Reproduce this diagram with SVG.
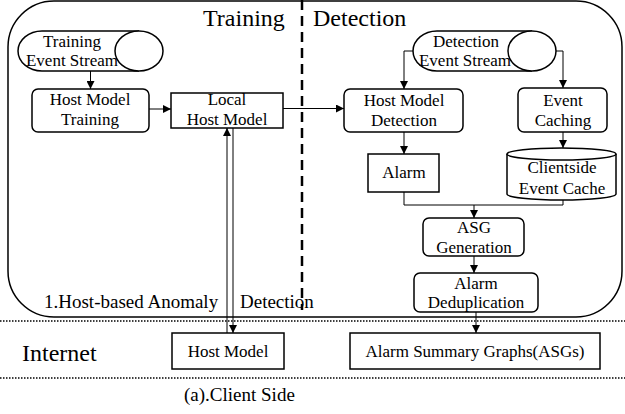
<svg xmlns="http://www.w3.org/2000/svg" width="625" height="414" viewBox="0 0 625 414">
  <style>
    .box { fill: #fff; stroke: #000; stroke-width: 1.5; }
    .frame { fill: none; stroke: #000; stroke-width: 1.5; }
    .lbl { font-family: "Liberation Serif", "Times New Roman", serif; font-size: 17px; fill: #000; text-anchor: middle; }
    .title { font-family: "Liberation Serif", "Times New Roman", serif; font-size: 24px; fill: #000; }
    .note { font-family: "Liberation Serif", "Times New Roman", serif; font-size: 19px; fill: #000; }
    .wire { fill: none; stroke: #000; stroke-width: 1; }
    .dots { stroke: #000; stroke-width: 1.5; stroke-dasharray: 1.5 1.5; }
  </style>
  <defs>
    <marker id="arrow" markerUnits="userSpaceOnUse" markerWidth="8" markerHeight="8" refX="8" refY="4" orient="auto">
      <path d="M0,0 L8,4 L0,8 z" fill="#000"/>
    </marker>
  </defs>
  <rect width="625" height="414" fill="#fff"/>

  <!-- client container with training / detection split -->
  <g id="client-frame">
    <rect class="frame" x="8" y="1" width="614" height="316" rx="46" ry="46"/>
    <line x1="302" y1="0" x2="302" y2="310" stroke="#000" stroke-width="2.5" stroke-dasharray="10 6"/>
    <text class="title" x="203" y="26">Training</text>
    <text class="title" x="313" y="26">Detection</text>
    <text class="note" x="44" y="308">1.Host-based Anomaly</text>
    <text class="note" x="240" y="308">Detection</text>
  </g>

  <!-- internet band -->
  <g id="internet-band">
    <line class="dots" x1="0" y1="321" x2="625" y2="321"/>
    <line class="dots" x1="0" y1="378" x2="625" y2="378"/>
    <text class="title" x="22" y="361">Internet</text>
    <text class="note" x="184" y="401">(a).Client Side</text>
  </g>

  <g id="training-stream">
    <path class="box" d="M139,31 L42,31 A24,20 0 0 0 42,71 L139,71"/>
    <ellipse class="box" cx="139" cy="51" rx="24" ry="20"/>
    <text class="lbl" x="72" y="47">Training</text>
    <text class="lbl" x="72" y="66">Event Stream</text>
  </g>

  <g id="host-model-training">
    <rect class="box" x="32" y="89" width="117" height="43" rx="6"/>
    <text class="lbl" x="90" y="105">Host Model</text>
    <text class="lbl" x="90" y="125">Training</text>
  </g>

  <g id="local-host-model">
    <rect class="box" x="171" y="93" width="112" height="35"/>
    <text class="lbl" x="227" y="105">Local</text>
    <text class="lbl" x="227" y="125">Host Model</text>
  </g>

  <g id="detection-stream">
    <path class="box" d="M532,31 L437,31 A24,20 0 0 0 437,71 L532,71"/>
    <ellipse class="box" cx="532" cy="51" rx="24" ry="20"/>
    <text class="lbl" x="466" y="47">Detection</text>
    <text class="lbl" x="465" y="66">Event Stream</text>
  </g>

  <g id="host-model-detection">
    <rect class="box" x="344" y="89" width="119" height="43" rx="6"/>
    <text class="lbl" x="404" y="106">Host Model</text>
    <text class="lbl" x="404" y="126">Detection</text>
  </g>

  <g id="event-caching">
    <rect class="box" x="518" y="88" width="89" height="44" rx="6"/>
    <text class="lbl" x="563" y="106">Event</text>
    <text class="lbl" x="563" y="126">Caching</text>
  </g>

  <g id="alarm">
    <rect class="box" x="368" y="154" width="71" height="38"/>
    <text class="lbl" x="404" y="178">Alarm</text>
  </g>

  <g id="event-cache">
    <path class="box" d="M507,154 L507,194 A54.5,6 0 0 0 616,194 L616,154"/>
    <ellipse class="box" cx="561.5" cy="154" rx="54.5" ry="6"/>
    <text class="lbl" x="562" y="173">Clientside</text>
    <text class="lbl" x="562" y="194">Event Cache</text>
  </g>

  <g id="asg-generation">
    <rect class="box" x="423" y="218" width="101" height="38" rx="6"/>
    <text class="lbl" x="474" y="233">ASG</text>
    <text class="lbl" x="474" y="253">Generation</text>
  </g>

  <g id="alarm-deduplication">
    <rect class="box" x="414" y="273" width="124" height="39" rx="6"/>
    <text class="lbl" x="476" y="289">Alarm</text>
    <text class="lbl" x="476" y="308">Deduplication</text>
  </g>

  <g id="host-model">
    <rect class="box" x="172" y="333" width="112" height="36"/>
    <text class="lbl" x="228" y="357">Host Model</text>
  </g>

  <g id="alarm-summary-graphs">
    <rect class="box" x="350" y="333" width="250" height="36"/>
    <text class="lbl" x="475" y="357">Alarm Summary Graphs(ASGs)</text>
  </g>

  <!-- connectors -->
  <g id="connectors">
    <line class="wire" x1="90.5" y1="71" x2="90.5" y2="89" marker-end="url(#arrow)"/>
    <line class="wire" x1="149" y1="109" x2="171" y2="109" marker-end="url(#arrow)"/>
    <line class="wire" x1="283" y1="108.5" x2="344" y2="108.5" marker-end="url(#arrow)"/>
    <polyline class="wire" points="413,51 404,51 404,89" marker-end="url(#arrow)"/>
    <polyline class="wire" points="556,51 563,51 563,88" marker-end="url(#arrow)"/>
    <line class="wire" x1="404" y1="132" x2="404" y2="154" marker-end="url(#arrow)"/>
    <line class="wire" x1="563" y1="132" x2="563" y2="148" marker-end="url(#arrow)"/>
    <polyline class="wire" points="404,192 404,205 563,205 563,200"/>
    <line class="wire" x1="474" y1="205" x2="474" y2="218" marker-end="url(#arrow)"/>
    <line class="wire" x1="474" y1="256" x2="474" y2="273" marker-end="url(#arrow)"/>
    <line class="wire" x1="476" y1="312" x2="476" y2="333" marker-end="url(#arrow)"/>
    <line class="wire" x1="227" y1="333" x2="227" y2="128" marker-end="url(#arrow)"/>
    <line class="wire" x1="233" y1="128" x2="233" y2="333" marker-end="url(#arrow)"/>
  </g>
</svg>
